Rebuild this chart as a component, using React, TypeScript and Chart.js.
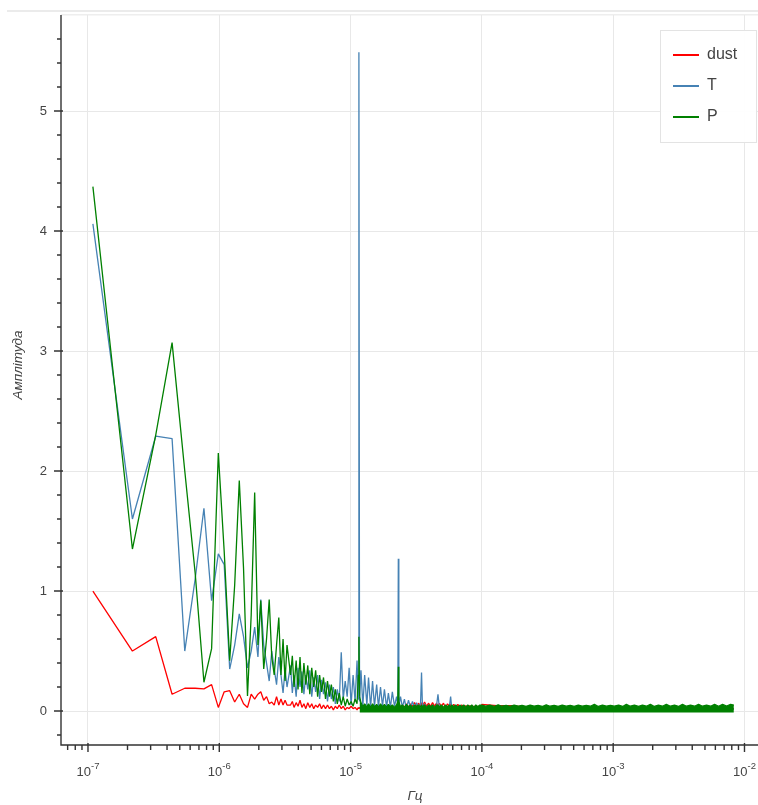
import React, { useEffect, useRef } from 'react';
import { Chart, registerables } from 'chart.js';

Chart.register(...registerables);

// ---------- data ----------
// low-frequency FFT bins, in units of 1e-7 Hz
const FREQ_LOW = [1.09, 2.18, 3.28, 4.37, 5.46, 6.55, 7.64, 8.74, 9.83, 10.9, 12.0, 13.1, 14.2, 15.3, 16.4, 17.5, 18.6, 19.7, 20.7, 21.8, 22.9, 24.0, 25.1, 26.2, 27.3, 28.4, 29.5, 30.6, 31.7, 32.8];
const DUST_LOW = [1.0, 0.5, 0.62, 0.14, 0.19, 0.19, 0.185, 0.22, 0.03, 0.16, 0.17, 0.075, 0.14, 0.06, 0.03, 0.14, 0.1, 0.14, 0.16, 0.09, 0.12, 0.06, 0.075, 0.05, 0.12, 0.05, 0.1, 0.05, 0.09, 0.05];
const T_LOW = [4.06, 1.6, 2.29, 2.27, 0.5, 1.1, 1.69, 0.92, 1.31, 1.22, 0.35, 0.55, 0.81, 0.62, 0.36, 0.5, 0.7, 0.45, 0.93, 0.55, 0.4, 0.25, 0.5, 0.35, 0.22, 0.45, 0.3, 0.15, 0.35, 0.2];
const P_LOW = [4.37, 1.35, 2.3, 3.07, 2.0, 1.15, 0.24, 0.52, 2.15, 1.33, 0.42, 1.05, 1.92, 1.19, 0.125, 0.8, 1.82, 0.55, 0.92, 0.35, 0.6, 0.93, 0.45, 0.3, 0.55, 0.78, 0.3, 0.6, 0.25, 0.55];

// mid-frequency bins, in µHz
const FREQ_MID = [
  3.49, 3.6, 3.71, 3.85, 3.98, 4.12, 4.26, 4.41, 4.56, 4.72,
  4.89, 5.06, 5.24, 5.42, 5.61, 5.81, 6.01, 6.22, 6.44, 6.67,
  6.9, 7.14, 7.39, 7.65, 7.92, 8.2, 8.49, 8.79, 9.1, 9.42,
  9.75, 10.09, 10.45, 10.82, 11.2, 11.45, 11.57, 11.7, 12.0, 12.4,
  12.8, 13.3, 13.7, 14.2, 14.7, 15.2, 15.8, 16.3, 16.9, 17.5,
  18.1, 18.8, 19.4, 20.1, 20.8, 21.6, 22.4, 22.9, 23.1, 23.3,
  24.0, 24.8, 25.7, 26.6, 27.6, 28.6, 29.6, 30.7, 31.8, 32.9,
  34.1, 34.7, 35.3, 36.6, 37.9, 39.3, 40.7, 42.1, 43.6, 45.2,
  46.3, 47.5, 49.2, 51.0, 52.8, 54.7, 56.6, 57.8, 59.0, 61.1,
  63.3, 65.6, 67.9, 70.3, 72.8, 75.4, 78.1, 80.9, 83.8, 86.8,
  89.9, 93.1, 96.4,
];
const DUST_MID = [
  0.05, 0.08, 0.03, 0.07, 0.04, 0.09, 0.03, 0.06, 0.02, 0.07,
  0.03, 0.06, 0.02, 0.05, 0.03, 0.06, 0.02, 0.05, 0.02, 0.05,
  0.02, 0.04, 0.01, 0.04, 0.02, 0.05, 0.02, 0.04, 0.01, 0.03,
  0.02, 0.04, 0.02, 0.03, 0.01, 0.03, 0.02, 0.03, 0.02, 0.03,
  0.01, 0.03, 0.02, 0.03, 0.02, 0.03, 0.02, 0.03, 0.02, 0.03,
  0.02, 0.03, 0.02, 0.03, 0.02, 0.03, 0.02, 0.03, 0.02, 0.03,
  0.02, 0.05, 0.03, 0.06, 0.03, 0.06, 0.04, 0.07, 0.04, 0.065,
  0.04, 0.07, 0.04, 0.075, 0.04, 0.065, 0.04, 0.07, 0.04, 0.065,
  0.04, 0.065, 0.04, 0.065, 0.03, 0.06, 0.04, 0.06, 0.03, 0.055,
  0.03, 0.055, 0.03, 0.05, 0.03, 0.045, 0.03, 0.045, 0.02, 0.04,
  0.02, 0.04, 0.02,
];
const T_MID = [
  0.38, 0.15, 0.3, 0.12, 0.36, 0.2, 0.33, 0.14, 0.3, 0.18,
  0.34, 0.12, 0.28, 0.16, 0.3, 0.1, 0.26, 0.14, 0.24, 0.08,
  0.22, 0.1, 0.2, 0.06, 0.18, 0.08, 0.49, 0.1, 0.25, 0.12,
  0.36, 0.05, 0.3, 0.08, 0.42, 0.1, 5.49, 0.08, 0.34, 0.04,
  0.3, 0.05, 0.28, 0.03, 0.25, 0.04, 0.22, 0.03, 0.2, 0.04,
  0.18, 0.03, 0.15, 0.03, 0.16, 0.04, 0.12, 0.05, 1.27, 0.04,
  0.12, 0.03, 0.1, 0.02, 0.09, 0.03, 0.08, 0.02, 0.07, 0.03,
  0.06, 0.32, 0.02, 0.06, 0.02, 0.05, 0.02, 0.05, 0.02, 0.05,
  0.14, 0.02, 0.04, 0.02, 0.04, 0.02, 0.04, 0.12, 0.02, 0.04,
  0.01, 0.04, 0.01, 0.03, 0.01, 0.03, 0.01, 0.03, 0.01, 0.03,
  0.01, 0.03, 0.01,
];
const P_MID = [
  0.3, 0.46, 0.2, 0.42, 0.18, 0.45, 0.15, 0.4, 0.22, 0.38,
  0.14, 0.36, 0.2, 0.34, 0.12, 0.3, 0.16, 0.28, 0.1, 0.25,
  0.12, 0.22, 0.08, 0.18, 0.06, 0.15, 0.05, 0.12, 0.04, 0.1,
  0.05, 0.08, 0.04, 0.1, 0.06, 0.3, 0.62, 0.12, 0.07, 0.035,
  0.06, 0.035, 0.06, 0.03, 0.06, 0.035, 0.055, 0.03, 0.06, 0.035,
  0.055, 0.03, 0.055, 0.035, 0.05, 0.03, 0.05, 0.08, 0.37, 0.08,
  0.035, 0.05, 0.03, 0.055, 0.035, 0.05, 0.03, 0.05, 0.035, 0.05,
  0.03, 0.05, 0.035, 0.05, 0.03, 0.05, 0.035, 0.05, 0.03, 0.05,
  0.05, 0.035, 0.05, 0.03, 0.05, 0.035, 0.05, 0.03, 0.05, 0.035,
  0.05, 0.03, 0.05, 0.035, 0.05, 0.03, 0.05, 0.035, 0.05, 0.03,
  0.05, 0.035, 0.05,
];
// P index where the dense noise floor begins
const P_BAND_START = 37;

// high-frequency noise floor, in units of 1e-4 Hz
const FREQ_BAND = [
  1.0, 1.07, 1.15, 1.24, 1.33, 1.42, 1.53, 1.64, 1.76, 1.89, 2.02, 2.17, 2.33, 2.5, 2.68, 2.88, 3.09,
  3.31, 3.55, 3.81, 4.09, 4.39, 4.71, 5.05, 5.42, 5.82, 6.24, 6.7, 7.19, 7.71, 8.28, 8.88, 9.53,
  10.2, 11.0, 11.8, 12.6, 13.5, 14.5, 15.6, 16.7, 17.9, 19.2, 20.6, 22.1, 23.7, 25.4, 27.3, 29.3,
  31.4, 33.7, 36.2, 38.8, 41.6, 44.7, 47.9, 51.4, 55.2, 59.2, 63.5, 68.1, 73.1, 78.4, 83.0,
];
const P_BAND = [
  0.05, 0.04, 0.05, 0.038, 0.052, 0.04, 0.048, 0.038, 0.05, 0.04,
  0.048, 0.038, 0.05, 0.04, 0.048, 0.038, 0.052, 0.04, 0.048, 0.038,
  0.05, 0.04, 0.048, 0.038, 0.05, 0.04, 0.048, 0.04, 0.055, 0.038,
  0.05, 0.04, 0.048, 0.04, 0.05, 0.038, 0.055, 0.04, 0.05, 0.038,
  0.05, 0.04, 0.055, 0.038, 0.05, 0.04, 0.055, 0.04, 0.05, 0.038,
  0.055, 0.04, 0.05, 0.04, 0.055, 0.04, 0.05, 0.04, 0.055, 0.04,
  0.055, 0.042, 0.055, 0.05,
];
const FREQ_TAIL = [1.0, 1.3, 1.7, 2.2, 3.0, 4.5, 7.0, 10, 15, 25, 40, 60, 83];
const DUST_TAIL = [0.055, 0.045, 0.045, 0.03, 0.03, 0.025, 0.02, 0.02, 0.02, 0.02, 0.02, 0.02, 0.02];
const T_TAIL = [0.03, 0.02, 0.025, 0.02, 0.015, 0.015, 0.015, 0.015, 0.015, 0.015, 0.015, 0.015, 0.015];

const SERIES_NAMES = ['dust', 'T', 'P'];
const SERIES_COLORS = ['red', 'steelblue', 'green'];
const Y_TICKS = [0, 1, 2, 3, 4, 5];
const X_TICKS = [1e-7, 1e-6, 1e-5, 1e-4, 1e-3, 1e-2];
const X_TICK_EXP = ['-7', '-6', '-5', '-4', '-3', '-2'];
const X_TITLE = 'Гц';
const Y_TITLE = 'Амплітуда';

const FONT = '"Liberation Sans", Arial, Helvetica, sans-serif';

function pts(freqs: number[], unit: number, vals: number[], from = 0, to = freqs.length) {
  const out: { x: number; y: number }[] = [];
  for (let i = from; i < to; i++) out.push({ x: freqs[i] * unit, y: vals[i] });
  return out;
}

const decor = {
  id: 'decor',
  beforeDraw(chart: any) {
    const ctx = chart.ctx as CanvasRenderingContext2D;
    const a = chart.chartArea;
    ctx.save();
    ctx.fillStyle = '#ebebeb';
    ctx.fillRect(7, a.top - 5, chart.width - 7, 2);
    ctx.fillStyle = '#eeeeee';
    ctx.fillRect(a.left, a.top - 1, a.right - a.left, 1.5);
    ctx.restore();
  },
  afterDraw(chart: any) {
    const ctx = chart.ctx as CanvasRenderingContext2D;
    const a = chart.chartArea;
    const xs = chart.scales.x;
    const ys = chart.scales.y;
    ctx.save();
    // axis lines
    ctx.strokeStyle = '#333';
    ctx.lineWidth = 1.4;
    ctx.beginPath();
    ctx.moveTo(a.left, a.top);
    ctx.lineTo(a.left, a.bottom);
    ctx.lineTo(a.right, a.bottom);
    ctx.stroke();
    // y ticks
    ctx.beginPath();
    for (const v of Y_TICKS) {
      const y = ys.getPixelForValue(v);
      ctx.moveTo(a.left - 7, y);
      ctx.lineTo(a.left + 2, y);
    }
    for (let i = -2; i <= 30; i++) {
      if (i % 5 === 0) continue;
      const v = i * 0.2;
      if (v < ys.min || v > ys.max) continue;
      const y = ys.getPixelForValue(v);
      ctx.moveTo(a.left - 4, y);
      ctx.lineTo(a.left, y);
    }
    // x ticks
    for (const v of X_TICKS) {
      const x = xs.getPixelForValue(v);
      ctx.moveTo(x, a.bottom - 2);
      ctx.lineTo(x, a.bottom + 7);
    }
    for (let e = -8; e <= -2; e++) {
      for (let m = 2; m <= 9; m++) {
        const v = m * Math.pow(10, e);
        if (v < xs.min || v > xs.max) continue;
        const x = xs.getPixelForValue(v);
        ctx.moveTo(x, a.bottom);
        ctx.lineTo(x, a.bottom + 5);
      }
    }
    ctx.stroke();

    // y labels
    ctx.fillStyle = '#444';
    ctx.font = `13px ${FONT}`;
    ctx.textAlign = 'right';
    ctx.textBaseline = 'middle';
    for (const v of Y_TICKS) {
      ctx.fillText(String(v), a.left - 14, ys.getPixelForValue(v));
    }
    // x labels with superscript exponent
    ctx.textAlign = 'left';
    ctx.textBaseline = 'alphabetic';
    X_TICKS.forEach((v, i) => {
      const x = xs.getPixelForValue(v);
      ctx.font = `13px ${FONT}`;
      const w1 = ctx.measureText('10').width;
      ctx.font = `9.5px ${FONT}`;
      const w2 = ctx.measureText(X_TICK_EXP[i]).width;
      const start = x - (w1 + w2) / 2;
      ctx.font = `13px ${FONT}`;
      ctx.fillText('10', start, a.bottom + 30.5);
      ctx.font = `9.5px ${FONT}`;
      ctx.fillText(X_TICK_EXP[i], start + w1, a.bottom + 23.5);
    });
    // axis titles
    ctx.font = `italic 13.5px ${FONT}`;
    ctx.textAlign = 'center';
    ctx.fillText(X_TITLE, (a.left + a.right) / 2, a.bottom + 55);
    ctx.save();
    ctx.translate(18, (a.top + a.bottom) / 2 - 15);
    ctx.rotate(-Math.PI / 2);
    ctx.textBaseline = 'middle';
    ctx.fillText(Y_TITLE, 0, 0);
    ctx.restore();

    // legend
    const lr = a.right - 12;
    const lt = a.top + 15;
    const lw = 97;
    const lh = 113;
    ctx.fillStyle = 'rgba(255,255,255,0.95)';
    ctx.fillRect(lr - lw, lt, lw, lh);
    ctx.strokeStyle = '#e3e3e3';
    ctx.lineWidth = 1;
    ctx.strokeRect(lr - lw + 0.5, lt + 0.5, lw - 1, lh - 1);
    ctx.font = `16px ${FONT}`;
    ctx.textAlign = 'left';
    ctx.textBaseline = 'middle';
    SERIES_NAMES.forEach((name, i) => {
      const y = lt + 25 + i * 31;
      ctx.strokeStyle = SERIES_COLORS[i];
      ctx.lineWidth = 2;
      ctx.beginPath();
      ctx.moveTo(lr - lw + 13, y);
      ctx.lineTo(lr - lw + 39, y);
      ctx.stroke();
      ctx.fillStyle = '#444';
      ctx.fillText(name, lr - lw + 47, y);
    });
    ctx.restore();
  },
};

export default function App() {
  const ref = useRef<HTMLCanvasElement | null>(null);
  useEffect(() => {
    if (!ref.current) return;
    const lineBase = {
      pointRadius: 0,
      borderWidth: 1.3,
      tension: 0,
      fill: false,
      borderJoinStyle: 'bevel' as const,
    };
    const chart = new Chart(ref.current, {
      type: 'line',
      data: {
        datasets: [
          {
            ...lineBase,
            label: SERIES_NAMES[0],
            borderColor: SERIES_COLORS[0],
            order: 3,
            data: [...pts(FREQ_LOW, 1e-7, DUST_LOW), ...pts(FREQ_MID, 1e-6, DUST_MID), ...pts(FREQ_TAIL, 1e-4, DUST_TAIL)],
          },
          {
            ...lineBase,
            label: SERIES_NAMES[1],
            borderColor: SERIES_COLORS[1],
            order: 2,
            data: [...pts(FREQ_LOW, 1e-7, T_LOW), ...pts(FREQ_MID, 1e-6, T_MID), ...pts(FREQ_TAIL, 1e-4, T_TAIL)],
          },
          {
            ...lineBase,
            label: SERIES_NAMES[2],
            borderColor: SERIES_COLORS[2],
            order: 0,
            data: [...pts(FREQ_LOW, 1e-7, P_LOW), ...pts(FREQ_MID, 1e-6, P_MID, 0, P_BAND_START + 1)],
          },
          {
            ...lineBase,
            label: SERIES_NAMES[2] + ' (noise floor)',
            borderColor: SERIES_COLORS[2],
            backgroundColor: SERIES_COLORS[2],
            fill: { value: -0.012 },
            order: 1,
            data: [...pts(FREQ_MID, 1e-6, P_MID, P_BAND_START), ...pts(FREQ_BAND, 1e-4, P_BAND)],
          },
        ],
      },
      options: {
        animation: false,
        responsive: false,
        maintainAspectRatio: false,
        events: [],
        layout: { padding: { top: 15, right: 21, bottom: 0, left: 0 } },
        plugins: {
          legend: { display: false },
          tooltip: { enabled: false },
          title: { display: false },
        },
        scales: {
          x: {
            type: 'logarithmic',
            bounds: 'data',
            min: 6.23e-8,
            max: 1.537e-2,
            afterBuildTicks: (s: any) => {
              s.ticks = X_TICKS.map((v) => ({ value: v }));
            },
            afterFit: (s: any) => {
              s.height = 60;
            },
            ticks: { display: false },
            grid: { color: '#e8e8e8', lineWidth: 1, drawTicks: false },
            border: { display: false },
          },
          y: {
            type: 'linear',
            bounds: 'data',
            min: -0.283,
            max: 5.8,
            afterBuildTicks: (s: any) => {
              s.ticks = Y_TICKS.map((v) => ({ value: v }));
            },
            afterFit: (s: any) => {
              s.width = 61;
            },
            ticks: { display: false },
            grid: { color: '#e8e8e8', lineWidth: 1, drawTicks: false },
            border: { display: false },
          },
        },
      } as any,
      plugins: [decor],
    });
    return () => chart.destroy();
  }, []);
  return (
    <div style={{ position: 'absolute', left: 0, top: 0, width: 758, height: 805, overflow: 'hidden', background: '#fff' }}>
      <canvas ref={ref} width={790} height={805} style={{ display: 'block', width: 790, height: 805 }} />
    </div>
  );
}
